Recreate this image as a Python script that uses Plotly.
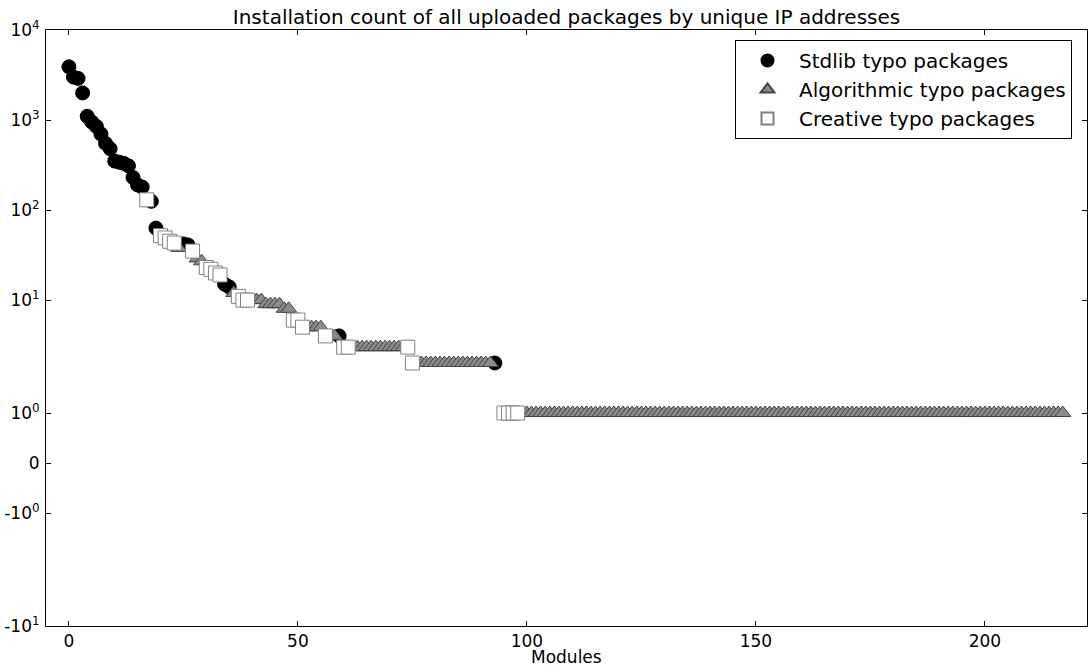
import numpy as np
import plotly.graph_objects as go

# ---- data (rank of module on x, unique-IP installation count on y) ----
stdlib_x = [0, 1, 2, 3, 4, 5, 6, 7, 8, 9, 10, 11, 12, 13, 14, 15, 16, 18, 19,
            25, 26, 34, 35, 59, 93]
stdlib_y = [3900, 3000, 2900, 2000, 1100, 950, 850, 700, 550, 480, 350, 340, 330,
            310, 230, 190, 180, 125, 63, 42, 41, 15, 14, 4, 2]

algo_x = [24, 28, 29, 36, 40, 41, 42, 43, 44, 45, 46, 47, 48, 52, 53, 54, 55, 57, 58,
          62, 63, 64, 65, 66, 67, 68, 69, 70, 71, 72, 73,
          76, 77, 78, 79, 80, 81, 82, 83, 84, 85, 86, 87, 88, 89, 90, 91, 92,
          99, 100, 101, 102, 103, 104, 105, 106, 107, 108, 109, 110, 111, 112, 113,
          114, 115, 116, 117, 118, 119, 120, 121, 122, 123, 124, 125, 126, 127, 128,
          129, 130, 131, 132, 133, 134, 135, 136, 137, 138, 139, 140, 141, 142, 143,
          144, 145, 146, 147, 148, 149, 150, 151, 152, 153, 154, 155, 156, 157, 158,
          159, 160, 161, 162, 163, 164, 165, 166, 167, 168, 169, 170, 171, 172, 173,
          174, 175, 176, 177, 178, 179, 180, 181, 182, 183, 184, 185, 186, 187, 188,
          189, 190, 191, 192, 193, 194, 195, 196, 197, 198, 199, 200, 201, 202, 203,
          204, 205, 206, 207, 208, 209, 210, 211, 212, 213, 214, 215, 216, 217]
algo_y = [38, 29, 27, 12, 10, 10, 10, 9, 9, 9, 9, 8, 8, 5, 5, 5, 5, 4, 4,
          3, 3, 3, 3, 3, 3, 3, 3, 3, 3, 3, 3,
          2, 2, 2, 2, 2, 2, 2, 2, 2, 2, 2, 2, 2, 2, 2, 2, 2,
          1, 1, 1, 1, 1, 1, 1, 1, 1, 1, 1, 1, 1, 1, 1,
          1, 1, 1, 1, 1, 1, 1, 1, 1, 1, 1, 1, 1, 1, 1,
          1, 1, 1, 1, 1, 1, 1, 1, 1, 1, 1, 1, 1, 1, 1,
          1, 1, 1, 1, 1, 1, 1, 1, 1, 1, 1, 1, 1, 1, 1,
          1, 1, 1, 1, 1, 1, 1, 1, 1, 1, 1, 1, 1, 1, 1,
          1, 1, 1, 1, 1, 1, 1, 1, 1, 1, 1, 1, 1, 1, 1,
          1, 1, 1, 1, 1, 1, 1, 1, 1, 1, 1, 1, 1, 1, 1,
          1, 1, 1, 1, 1, 1, 1, 1, 1, 1, 1, 1, 1, 1]

creative_x = [17, 20, 21, 22, 23, 27, 30, 31, 32, 33, 37, 38, 39, 49, 50, 51, 56,
              60, 61, 74, 75, 95, 96, 97, 98]
creative_y = [130, 52, 49, 45, 43, 35, 23, 22, 20, 19, 11, 10, 10, 6, 6, 5, 4,
              3, 3, 3, 2, 1, 1, 1, 1]

ytick_values = [1e4, 1e3, 1e2, 1e1, 1, 0, -1, -10]
ytick_labels = ["10<sup>4</sup>", "10<sup>3</sup>", "10<sup>2</sup>", "10<sup>1</sup>",
                "10<sup>0</sup>", "0", "-10<sup>0</sup>", "-10<sup>1</sup>"]
xtick_values = [0, 50, 100, 150, 200]

TITLE = "Installation count of all uploaded packages by unique IP addresses"
XLABEL = "Modules"


# symmetric log scale (linthresh=2, linscale=1, base 10) as in the original
def symlog(v, linthresh=2.0, linscale=1.0, base=10.0):
    v = np.asarray(v, dtype=float)
    adj = linscale / (1.0 - 1.0 / base)
    out = np.where(
        np.abs(v) <= linthresh,
        v * adj,
        np.sign(v) * linthresh * (adj + np.log(np.maximum(np.abs(v), 1e-300) / linthresh) / np.log(base)),
    )
    return out


FONT = "DejaVu Sans"
TICK_SIZE = 17

fig = go.Figure()
fig.add_trace(go.Scatter(
    x=stdlib_x, y=symlog(stdlib_y), mode="markers", name="Stdlib typo packages",
    marker=dict(symbol="circle", size=14, color="black", line=dict(color="black", width=1)),
    legendgroup="a",
))
fig.add_trace(go.Scatter(
    x=algo_x, y=symlog(algo_y), mode="markers", name="Algorithmic typo packages",
    marker=dict(symbol="triangle-up", size=14, color="#8a8a8a", line=dict(color="#444444", width=1)),
    legendgroup="b",
))
fig.add_trace(go.Scatter(
    x=creative_x, y=symlog(creative_y), mode="markers", name="Creative typo packages",
    marker=dict(symbol="square", size=14, color="white", line=dict(color="#808080", width=1)),
    legendgroup="c",
))

fig.update_layout(
    width=1088, height=668,
    margin=dict(l=46, r=1, t=30, b=42, autoexpand=False),
    paper_bgcolor="white", plot_bgcolor="white",
    font=dict(family=FONT, color="black", size=TICK_SIZE),
    title=dict(text=TITLE, x=0.5, xref="paper", xanchor="center",
               y=1 - 17 / 668, yref="container", yanchor="middle",
               font=dict(family=FONT, size=20, color="black")),
    xaxis=dict(range=[-5, 222.3], tickvals=xtick_values, ticks="inside", ticklen=5,
               tickcolor="black", showline=True, linecolor="black", linewidth=1,
               mirror="ticks", showgrid=False, zeroline=False, automargin=False,
               tickfont=dict(family=FONT, size=TICK_SIZE, color="black")),
    yaxis=dict(range=[float(symlog(-10)), float(symlog(1e4))],
               tickvals=[float(t) for t in symlog(ytick_values)], ticktext=ytick_labels,
               ticks="inside", ticklen=5, tickcolor="black", showline=True,
               linecolor="black", linewidth=1, mirror="ticks", showgrid=False,
               zeroline=False, automargin=False, ticklabelstandoff=2,
               tickfont=dict(family=FONT, size=TICK_SIZE, color="black")),
    legend=dict(x=(735 - 46) / 1041, y=(626 - 40) / 596, xanchor="left", yanchor="top",
                bgcolor="white", bordercolor="black", borderwidth=1,
                font=dict(family=FONT, size=20, color="black"),
                itemsizing="constant", tracegroupgap=0, itemwidth=53),
    annotations=[dict(text=XLABEL, xref="paper", yref="paper", x=0.5, y=-(657 - 626) / 596,
                      xanchor="center", yanchor="middle", showarrow=False,
                      font=dict(family=FONT, size=TICK_SIZE, color="black"))],
)

fig.write_html("out.html", config={"displayModeBar": False},
               post_script="document.body.style.margin='0';document.body.style.overflow='hidden';")
